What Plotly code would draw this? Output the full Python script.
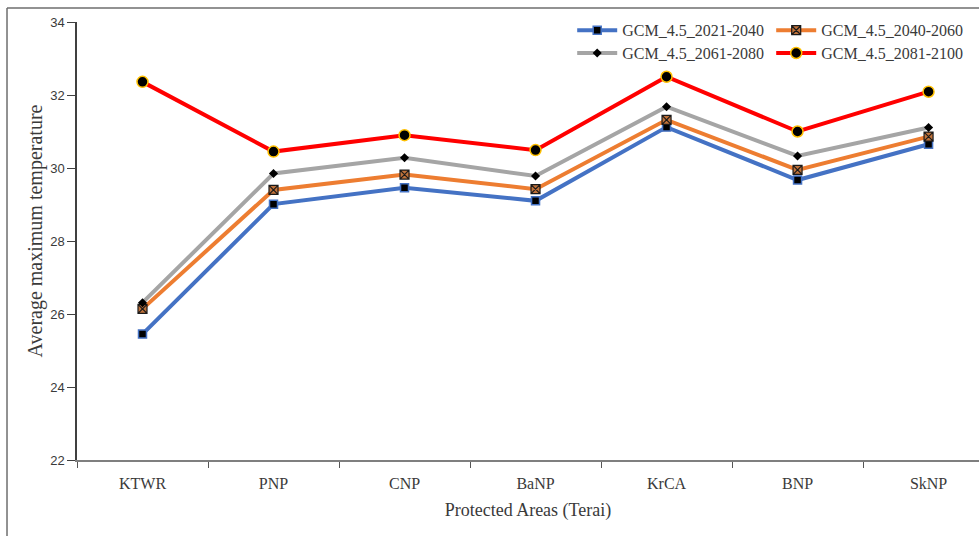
import plotly.graph_objects as go

# Protected areas of the Terai and projected average maximum temperature (°C)
areas = ["KTWR", "PNP", "CNP", "BaNP", "KrCA", "BNP", "SkNP"]
gcm_2021_2040 = [25.45, 29.01, 29.46, 29.10, 31.12, 29.67, 30.65]
gcm_2040_2060 = [26.14, 29.40, 29.82, 29.42, 31.32, 29.95, 30.86]
gcm_2061_2080 = [26.31, 29.85, 30.28, 29.78, 31.68, 30.33, 31.11]
gcm_2081_2100 = [32.36, 30.45, 30.90, 30.49, 32.50, 31.00, 32.09]

y_ticks = [22, 24, 26, 28, 30, 32, 34]

serif = "Liberation Serif"
sans = "Liberation Sans"
text_col = "#3a3a3a"

series = [
    dict(name="GCM_4.5_2021-2040", y=gcm_2021_2040, color="#4472C4",
         marker=dict(symbol="square", size=8, color="#000000",
                     line=dict(color="#4472C4", width=1.5)), legend="legend"),
    dict(name="GCM_4.5_2040-2060", y=gcm_2040_2060, color="#ED7D31",
         marker=dict(symbol="square-x", size=9, color="#C0723A",
                     line=dict(color="#1a1a1a", width=1.2)), legend="legend"),
    dict(name="GCM_4.5_2061-2080", y=gcm_2061_2080, color="#A5A5A5",
         marker=dict(symbol="diamond", size=7, color="#000000",
                     line=dict(color="#000000", width=0)), legend="legend2"),
    dict(name="GCM_4.5_2081-2100", y=gcm_2081_2100, color="#FF0000",
         marker=dict(symbol="circle", size=11, color="#000000",
                     line=dict(color="#FFC000", width=1.5)), legend="legend2"),
]

fig = go.Figure()
for s in series:
    fig.add_trace(go.Scatter(
        x=areas, y=s["y"], name=s["name"], mode="lines+markers",
        line=dict(color=s["color"], width=4),
        marker=s["marker"], legend=s["legend"],
    ))

legend_style = dict(
    orientation="h", xanchor="left", yanchor="middle",
    bgcolor="rgba(0,0,0,0)", font=dict(family=serif, size=16, color=text_col),
    entrywidth=144, entrywidthmode="pixels", itemwidth=40,
)

fig.update_layout(
    width=979, height=536,
    margin=dict(l=77, r=0, t=22, b=76, autoexpand=False),
    paper_bgcolor="white", plot_bgcolor="white",
    showlegend=True,
    legend=dict(x=0.549, y=0.981, **legend_style),
    legend2=dict(x=0.549, y=0.929, **legend_style),
    xaxis=dict(
        type="category", categoryorder="array", categoryarray=areas,
        range=[-0.5, 6.385], showgrid=False, zeroline=False,
        showline=True, linecolor="#7f7f7f", linewidth=2,
        ticks="outside", tickson="boundaries", ticklen=6, tickcolor="#555555",
        ticklabelstandoff=8,
        tickfont=dict(family=serif, size=16, color=text_col),
        title=dict(text="Protected Areas (Terai)", standoff=12,
                   font=dict(family=serif, size=18, color=text_col)),
    ),
    yaxis=dict(
        range=[22, 34], tickvals=y_ticks, showgrid=False, zeroline=False,
        showline=True, linecolor="#404040", linewidth=1.5,
        ticks="outside", ticklen=8, tickcolor="#404040",
        tickfont=dict(family=sans, size=13, color=text_col),
    ),
    annotations=[dict(
        text="Average maximum temperature", textangle=-90,
        xref="paper", yref="paper", x=-0.046, y=0.523,
        xanchor="center", yanchor="middle", showarrow=False,
        font=dict(family=serif, size=20, color=text_col),
    )],
)

# outer frame around the figure panel
fig.add_shape(type="line", xref="paper", yref="paper",
              x0=-0.0776, x1=1.02, y0=1.032, y1=1.032,
              line=dict(color="#6e6e6e", width=1.5))
fig.add_shape(type="line", xref="paper", yref="paper",
              x0=-0.0776, x1=-0.0776, y0=1.032, y1=-0.2,
              line=dict(color="#6e6e6e", width=1.5))

fig.write_html("out.html")
